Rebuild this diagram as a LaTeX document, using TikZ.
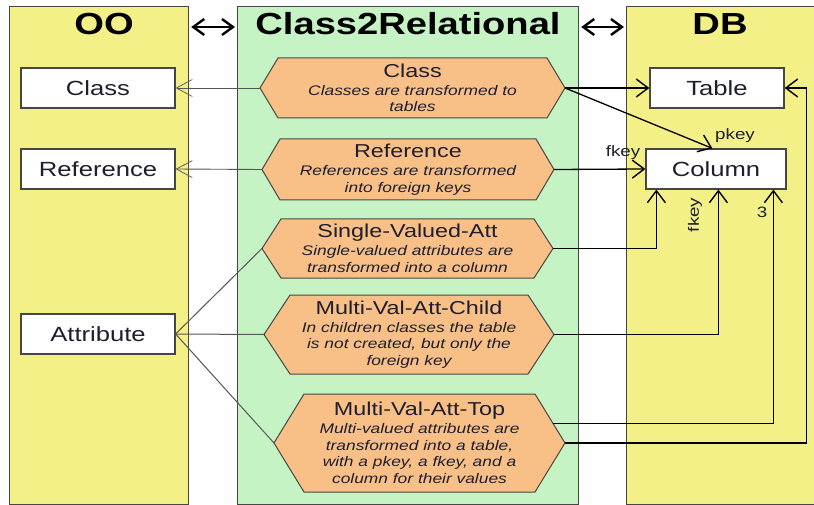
\documentclass[tikz,border=0pt]{standalone}
\usepackage{fontspec}
\setmainfont{Liberation Sans}[FakeStretch=1.25]
\usetikzlibrary{arrows.meta,calc}
\definecolor{panelY}{RGB}{243,240,136}
\definecolor{panelG}{RGB}{198,243,196}
\definecolor{hexO}{RGB}{248,192,134}
\definecolor{edgeC}{RGB}{70,70,70}
\definecolor{thinC}{RGB}{85,85,85}
\definecolor{txtC}{RGB}{30,30,45}
\newcommand{\hexdesc}{\fontsize{13.9}{16.5}\selectfont\itshape}
\newcommand{\hexttl}{\fontsize{18.7}{18}\selectfont\upshape}
\newcommand{\hexa}[7]{%
  \coordinate (#1-w) at (#2,{(#4+#5)/2});
  \coordinate (#1-e) at (#3,{(#4+#5)/2});
  \coordinate (#1-nw) at ({#2+#6},#4);
  \coordinate (#1-ne) at ({#3-#6},#4);
  \coordinate (#1-sw) at ({#2+#6},#5);
  \coordinate (#1-se) at ({#3-#6},#5);
  \draw[hexstyle] (#1-w) -- (#1-nw) -- (#1-ne) -- (#1-e) -- (#1-se) -- (#1-sw) -- cycle;
  \node[hextext] (#1) at ($(#1-w)!0.5!(#1-e)$) {#7};
}
\tikzset{
  panel/.style={draw=edgeC, line width=1.2pt, minimum width=#1, inner sep=0pt, minimum height=498pt, anchor=north west},
  ttl/.style={font=\fontsize{30.5}{30}\selectfont\bfseries, anchor=base, inner sep=0pt},
  box/.style={draw=edgeC, fill=white, line width=1.2pt, minimum height=40pt, inner sep=0pt, font=\fontsize{20.5}{20}\selectfont, text=txtC},
  hexstyle/.style={draw=edgeC, fill=hexO, line width=1pt},
  hextext/.style={align=center, font=\hexdesc, inner sep=0pt, text=txtC},
  oarrow/.style={draw=thinC, line width=0.9pt, -{Straight Barb[length=16pt,width=17pt,line width=0.7pt]}},
  plainln/.style={draw=thinC, line width=1pt},
  darrow/.style={draw=black, line width=1.3pt, -{Straight Barb[length=12pt,width=18pt,line width=1.4pt]}},
  bigdbl/.style={draw=black, line width=2.6pt, {Straight Barb[length=11pt,width=16pt,line width=2.4pt]}-{Straight Barb[length=11pt,width=16pt,line width=2.4pt]}},
  lbl/.style={font=\fontsize{15}{15}\selectfont, inner sep=0pt, text=txtC},
}
\begin{document}
\begin{tikzpicture}[x=1pt,y=-1pt]
\useasboundingbox (0,0) rectangle (814,505);
\fill[white] (0,0) rectangle (814,505);
% panels
\node[panel=179pt, fill=panelY] (pOO) at (9,6) {};
\node[panel=341pt, fill=panelG] (pMid) at (237,6) {};
\node[panel=200pt, fill=panelY] (pDB) at (626,6) {};
% titles
\node[ttl] (tOO) at (104,35) {OO};
\node[ttl] (tMid) at (408,35) {Class2Relational};
\node[ttl] (tDB) at (720,35) {DB};
% double arrows
\draw[bigdbl] ($(pOO.north east)+(2,21)$) -- ($(pMid.north west)+(-2,21)$);
\draw[bigdbl] ($(pMid.north east)+(2,21)$) -- ($(pDB.north west)+(-2,21)$);
% OO boxes
\node[box, minimum width=154pt] (oClass) at (98,88) {Class};
\node[box, minimum width=154pt] (oRef) at (98,169) {Reference};
\node[box, minimum width=154pt] (oAttr) at (98,334) {Attribute};
% DB boxes
\node[box, minimum width=134pt] (dTable) at (717,88) {Table};
\node[box, minimum width=140pt] (dCol) at (716,169) {Column};
% hexagons
\hexa{hC}{260}{565}{58}{118}{18}{{\hexttl Class}\\[1.5pt] Classes are transformed to\\ tables}
\hexa{hR}{262}{554}{139}{200}{18}{{\hexttl Reference}\\[1.5pt] References are transformed\\ into foreign keys}
\hexa{hS}{262}{553}{219}{278}{19}{{\hexttl Single-Valued-Att}\\[1.5pt] Single-valued attributes are\\ transformed into a column}
\hexa{hM}{264}{554}{295}{374}{26}{{\hexttl Multi-Val-Att-Child}\\[1.5pt] In children classes the table\\ is not created, but only the\\ foreign key}
\hexa{hT}{274}{565}{394}{492}{30}{{\hexttl Multi-Val-Att-Top}\\[1.5pt] Multi-valued attributes are\\ transformed into a table,\\ with a pkey, a fkey, and a\\ column for their values}
% OO side connectors
\draw[oarrow] (hC-w) -- (oClass.east);
\draw[oarrow] (hR-w) -- (oRef.east);
\draw[plainln] (oAttr.east) -- (hS-w);
\draw[plainln] (oAttr.east) -- (hM-w);
\draw[plainln] (oAttr.east) -- (hT-w);
% DB side connectors
\draw[darrow] (hC-e) -- (dTable.west);
\draw[darrow] (hC-e) -- ($(dCol.north west)+(67,0)$);
\node[lbl, anchor=base] (lpkey) at (735,140) {pkey};
\draw[darrow] (hR-e) -- (dCol.west);
\node[lbl, anchor=base] (lfkey) at (623,157) {fkey};
\draw[darrow] (hS-e) -| ($(dCol.south west)+(11,0)$);
\draw[darrow] (hM-e) -| ($(dCol.south west)+(73,0)$);
\node[lbl, rotate=90] (lfkey2) at (695,215) {fkey};
\draw[darrow] ($(hT-ne)!0.6!(hT-e)$) -| ($(dCol.south west)+(128,0)$);
\node[lbl] (l3) at (762,212) {3};
\draw[darrow] (hT-e) -| ($(dTable.east)+(22,0)$) -- (dTable.east);
\end{tikzpicture}
\end{document}
